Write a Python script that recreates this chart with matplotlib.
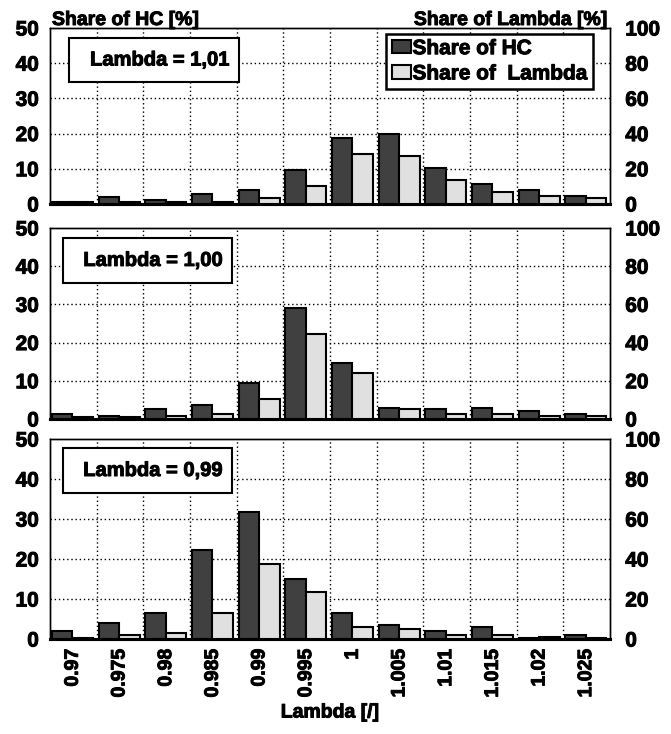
import numpy as np
import matplotlib
matplotlib.use("Agg")
import matplotlib.pyplot as plt
import matplotlib.patheffects as pe
from matplotlib.patches import Rectangle, Patch

plt.rcParams['font.family'] = ['Liberation Sans', 'DejaVu Sans']
plt.rcParams['font.weight'] = 'bold'

cats = ['0.97', '0.975', '0.98', '0.985', '0.99', '0.995', '1',
        '1.005', '1.01', '1.015', '1.02', '1.025']

# share of HC [%] (left axis) and share of lambda [%] (right axis)
hc_101 = [0.7, 2.1, 1.1, 2.8, 4.0, 9.7, 18.8, 19.9, 10.2, 5.7, 4.0, 2.3]
lam_101 = [1.4, 1.4, 1.2, 1.4, 3.2, 10.2, 28.6, 27.4, 13.8, 6.6, 4.6, 3.2]

hc_100 = [1.4, 0.9, 2.5, 3.6, 9.4, 29.0, 14.7, 3.0, 2.5, 3.0, 2.0, 1.4]
lam_100 = [0.8, 0.8, 1.8, 2.8, 10.4, 44.4, 24.2, 5.0, 2.8, 2.8, 1.8, 1.8]

hc_099 = [2.0, 4.0, 6.6, 22.3, 31.8, 15.1, 6.6, 3.5, 2.0, 3.0, 0.3, 1.0]
lam_099 = [0.6, 2.0, 3.0, 13.2, 37.6, 23.4, 6.0, 5.0, 2.0, 2.0, 1.0, 0.6]

panels = [
    ("Lambda = 1,01", hc_101, lam_101),
    ("Lambda = 1,00", hc_100, lam_100),
    ("Lambda = 0,99", hc_099, lam_099),
]

DARK = '#404040'
LIGHT = '#e0e0e0'
TICK_FS = 15
HEAVY = [pe.withStroke(linewidth=0.7, foreground='black')]

fig = plt.figure(figsize=(6.71, 7.34), dpi=100)

# [left, bottom, width, height] in figure fractions
rects = [
    [0.0745, 0.7221, 0.8346, 0.2398],
    [0.0745, 0.4292, 0.8346, 0.2602],
    [0.0745, 0.1294, 0.8346, 0.2725],
]
boxes = [
    (0.034, 0.693, 0.304, 0.250),
    (0.023, 0.712, 0.302, 0.236),
    (0.023, 0.730, 0.302, 0.225),
]

x = np.arange(len(cats))

for k, (title, hc, lam) in enumerate(panels):
    ax = fig.add_axes(rects[k])
    ax2 = ax.twinx()

    ax.bar(x - 0.46, hc, width=0.44, align='edge', color=DARK,
           edgecolor='black', linewidth=1.5, zorder=3)
    ax2.bar(x - 0.02, lam, width=0.44, align='edge', color=LIGHT,
            edgecolor='black', linewidth=1.5, zorder=3)

    ax.set_xlim(-0.5, len(cats) - 0.5)
    ax.set_ylim(0, 50)
    ax2.set_ylim(0, 100)
    ax.set_yticks([0, 10, 20, 30, 40, 50])
    ax2.set_yticks([0, 20, 40, 60, 80, 100])

    # grid: horizontal at values, vertical between categories
    for yv in [10, 20, 30, 40]:
        ax.axhline(yv, color='black', linestyle=(0, (1, 2)), linewidth=1, zorder=1)
    for xv in x[1:] - 0.5:
        ax.axvline(xv, color='black', linestyle=(0, (1, 2)), linewidth=1, zorder=1)

    for a in (ax, ax2):
        for s in a.spines.values():
            s.set_linewidth(1)
            s.set_color('black')
        a.spines['bottom'].set_linewidth(2.2)
        a.tick_params(length=0, labelsize=TICK_FS)
    ax.tick_params(axis='y', pad=8)
    ax2.tick_params(axis='y', pad=11)

    ax.set_xticks(x)
    if k == 2:
        ax.set_xticklabels(cats, rotation=90, fontsize=14, fontweight='bold')
        ax.tick_params(axis='x', pad=7)
    else:
        ax.set_xticklabels([])

    for lbl in ax.get_yticklabels() + ax2.get_yticklabels() + ax.get_xticklabels():
        lbl.set_path_effects(HEAVY)

    bx, by, bw, bh = boxes[k]
    ax2.add_patch(Rectangle((bx, by), bw, bh, transform=ax2.transAxes,
                            facecolor='white', edgecolor='black',
                            linewidth=1.5, zorder=5))
    ax2.text(bx + bw / 2 + 0.01, by + bh / 2, title, transform=ax2.transAxes,
             ha='center', va='center', fontsize=14.5, fontweight='bold',
             zorder=6, path_effects=HEAVY)

    if k == 0:
        handles = [Patch(facecolor=DARK, edgecolor='black', linewidth=1.5),
                   Patch(facecolor=LIGHT, edgecolor='black', linewidth=1.5)]
        leg = ax2.legend(handles, ['Share of HC', 'Share of  Lambda'],
                         loc='upper right', bbox_to_anchor=(0.970, 0.966),
                         fontsize=15, frameon=True, fancybox=False,
                         edgecolor='black', framealpha=1, borderaxespad=0,
                         handlelength=0.95, handleheight=0.6, handletextpad=0.05,
                         borderpad=0.25, labelspacing=0.3)
        leg.get_frame().set_linewidth(1.8)
        leg.set_zorder(7)
        for t in leg.get_texts():
            t.set_path_effects(HEAVY)

fig.text(52 / 671, 1 - 25 / 734, 'Share of HC [%]', ha='left', va='baseline',
         fontsize=14, fontweight='bold', path_effects=HEAVY)
fig.text(608 / 671, 1 - 25 / 734, 'Share of Lambda [%]', ha='right', va='baseline',
         fontsize=14, fontweight='bold', path_effects=HEAVY)
fig.text(330 / 671, 1 - 713 / 734, 'Lambda [/]', ha='center', va='center',
         fontsize=14, fontweight='bold', path_effects=HEAVY)

fig.savefig('out.png', dpi=100)
